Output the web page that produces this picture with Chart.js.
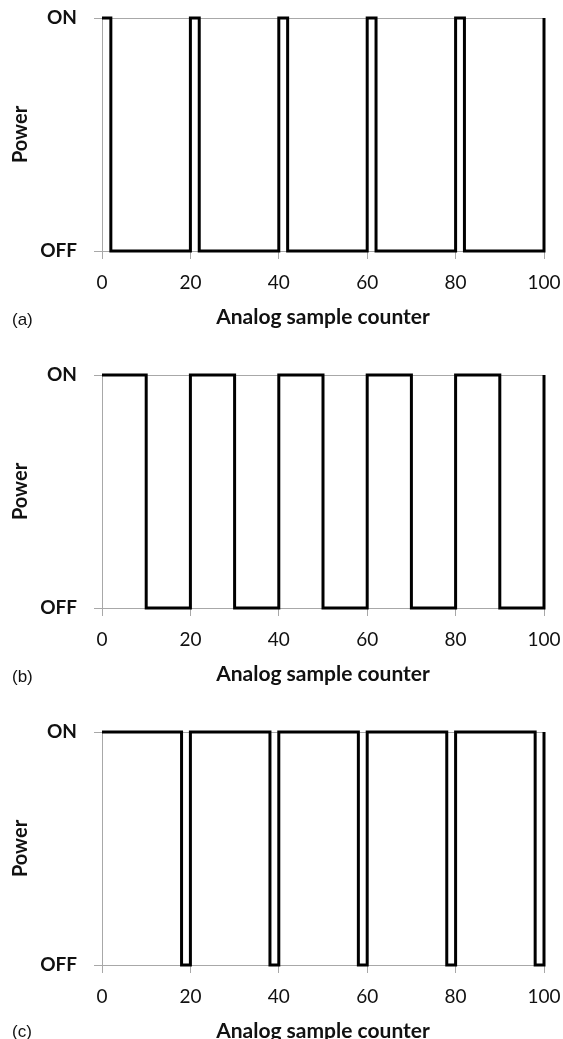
<!DOCTYPE html>
<html>
<head>
<meta charset="utf-8">
<script src="https://cdn.jsdelivr.net/npm/chart.js@4.4.1/dist/chart.umd.min.js"></script>
<style>
  html, body { margin: 0; padding: 0; background: #fff; overflow: hidden; }
  .panel { position: absolute; left: 0; width: 563px; height: 345px; }
  .panel canvas { display: block; }
  .tag { position: absolute; left: 12px; font-family: "Liberation Sans", Arial, sans-serif; font-size: 17px; color: #111; line-height: 20px; }
</style>
</head>
<body>
<div class="panel" style="top:0px"><canvas id="chartA" width="563" height="345"></canvas></div>
<div class="panel" style="top:357px"><canvas id="chartB" width="563" height="345"></canvas></div>
<div class="panel" style="top:714px"><canvas id="chartC" width="563" height="345"></canvas></div>
<div class="tag" style="top:310px">(a)</div>
<div class="tag" style="top:667px">(b)</div>
<div class="tag" style="top:1022px">(c)</div>
<script>
// Data: sample counter where the power state changes, and the state from there on (1 = ON, 0 = OFF)
const countersA = [0, 2, 20, 22, 40, 42, 60, 62, 80, 82, 100];
const statesA   = [1, 0, 1, 0, 1, 0, 1, 0, 1, 0, 1];

const countersB = [0, 10, 20, 30, 40, 50, 60, 70, 80, 90, 100];
const statesB   = [1, 0, 1, 0, 1, 0, 1, 0, 1, 0, 1];

const countersC = [0, 18, 20, 38, 40, 58, 60, 78, 80, 98, 100];
const statesC   = [1, 0, 1, 0, 1, 0, 1, 0, 1, 0, 1];

const stateLabels = ['OFF', 'ON'];
const xTickStep = 20;
const xTitle = 'Analog sample counter';
const yTitle = 'Power';

const AXIS_GREY = '#a8a8a8';
const FONT = 'Lato, "Open Sans", sans-serif';

// Build one power-state panel
function makePanel(canvasId, counters, states) {
    const ctx = document.getElementById(canvasId).getContext('2d');
    const points = counters.map((c, i) => ({ x: c, y: states[i] }));

    return new Chart(ctx, {
        type: 'line',
        data: {
            datasets: [{
                data: points,
                borderColor: '#000',
                borderWidth: 3,
                pointRadius: 0,
                stepped: 'before',
                fill: false,
                clip: false,
                borderJoinStyle: 'miter'
            }]
        },
        options: {
            responsive: false,
            animation: false,
            events: [],
            layout: { padding: { top: 18, right: 19, left: 0, bottom: 0 } },
            plugins: {
                legend: { display: false },
                tooltip: { enabled: false }
            },
            scales: {
                x: {
                    type: 'linear',
                    min: 0,
                    max: 100,
                    afterFit: scale => {
                        scale.height = 94;
                        scale.paddingLeft = 0;
                        scale.paddingRight = 0;
                    },
                    grid: {
                        drawOnChartArea: false,
                        drawTicks: true,
                        tickLength: 8,
                        color: AXIS_GREY
                    },
                    border: { display: true, color: AXIS_GREY },
                    ticks: {
                        stepSize: xTickStep,
                        padding: 12,
                        color: '#111',
                        maxRotation: 0,
                        font: { family: FONT, size: 19 }
                    },
                    title: {
                        display: true,
                        text: xTitle,
                        color: '#111',
                        padding: { top: 0, bottom: 15 },
                        font: { family: FONT, size: 21, weight: 'bold' }
                    }
                },
                y: {
                    type: 'linear',
                    min: 0,
                    max: 1,
                    afterFit: scale => {
                        scale.width = 102;
                        scale.paddingTop = 0;
                        scale.paddingBottom = 0;
                    },
                    grid: {
                        drawTicks: true,
                        tickLength: 8,
                        color: AXIS_GREY
                    },
                    border: { display: true, color: AXIS_GREY },
                    ticks: {
                        stepSize: 1,
                        padding: 17,
                        color: '#111',
                        font: { family: FONT, size: 19, weight: 'bold' },
                        callback: v => stateLabels[v]
                    },
                    title: {
                        display: true,
                        text: yTitle,
                        color: '#111',
                        padding: { top: 9, bottom: 0 },
                        font: { family: FONT, size: 20, weight: 'bold' }
                    }
                }
            }
        }
    });
}

makePanel('chartA', countersA, statesA);
makePanel('chartB', countersB, statesB);
makePanel('chartC', countersC, statesC);
</script>
</body>
</html>
